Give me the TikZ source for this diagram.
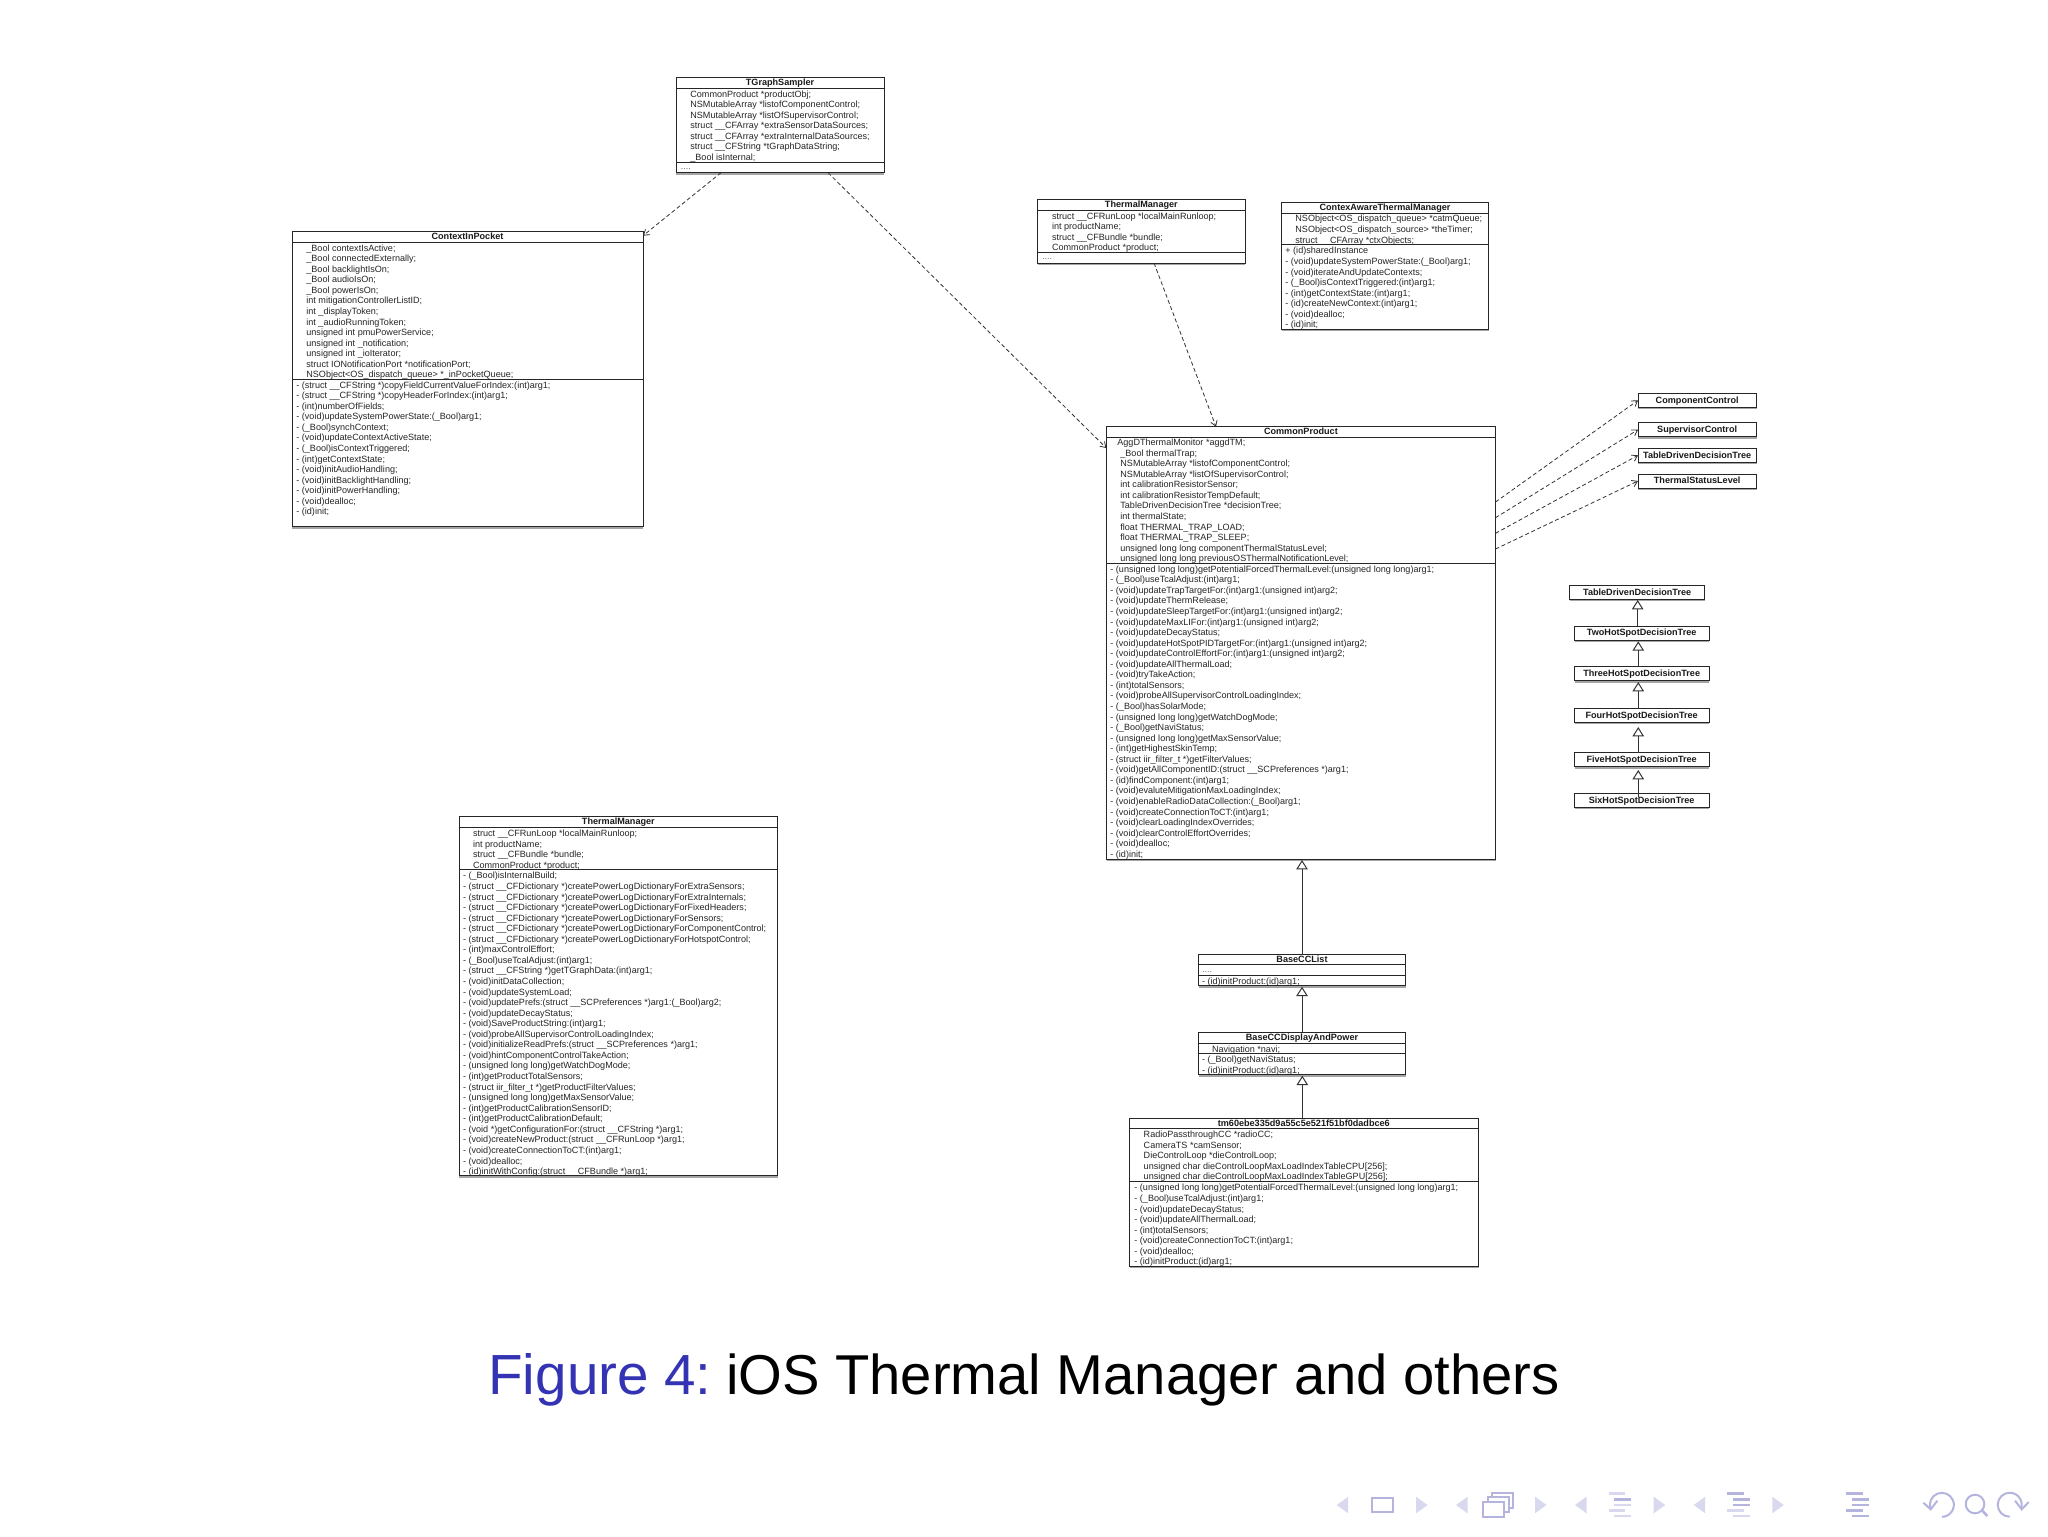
\documentclass[tikz,border=0pt]{standalone}
\usepackage{fontspec}
\setmainfont{Liberation Sans}
\usetikzlibrary{arrows.meta,calc,fit,shadows}
\definecolor{capblue}{HTML}{3333B3}
\definecolor{navlight}{HTML}{D8D8EE}
\definecolor{navdark}{HTML}{B4B4DE}
\tikzset{
    classframe/.style={draw=black!85,line width=.5pt,fill=white,inner sep=0pt,outer sep=0pt,
        drop shadow={shadow xshift=.2pt,shadow yshift=-1pt,opacity=.5,fill=black!70}},
    classrule/.style={draw=black!85,line width=.45pt},
    classtitle/.style={font=\fontsize{4.55}{5.28}\selectfont\bfseries,inner sep=0pt,text=black!90,text height=3.3pt,text depth=.4pt},
    classtext/.style={font=\fontsize{4.53}{5.28}\selectfont,inner sep=0pt,anchor=north west,align=left,text=black!85},
    ctrlbox/.style={classframe,classtitle,minimum width=59.15pt,minimum height=7pt},
    treebox/.style={classframe,classtitle,minimum width=67.35pt,minimum height=7pt},
    dep/.style={draw=black!80,line width=.4pt,dash pattern=on 2pt off 1.3pt,-{Straight Barb[length=2.6pt,width=3.4pt]}},
    inherit/.style={draw=black!80,line width=.5pt,-{Triangle[open,length=4.65pt,width=5.7pt,fill=white]}},
    navline/.style={line width=1.2pt},
    navicon/.style={draw=navdark,line width=1pt}
}
% name, left, top, right, bottom, title rule, member rule, title
\newcommand{\classbox}[8]{
    \coordinate (#1nw) at (#2,#3);
    \coordinate (#1se) at (#4,#5);
    \node[classframe,fit=(#1nw)(#1se)] (#1) {};
    \draw[classrule] (#1.west |- 0,#6) -- (#1.east |- 0,#6);
    \draw[classrule] (#1.west |- 0,#7) -- (#1.east |- 0,#7);
    \node[classtitle] (#1title) at ($(#1.north)!.5!(#1.north |- 0,#6)$) {#8};
}
\newcommand{\memberlines}[4]{\node[classtext] (#1) at (#2,#3-3.9) {\strut #4};}
\begin{document}
\begin{tikzpicture}[x=.5pt,y=-.5pt]
    \useasboundingbox (0,0) rectangle (2048,1536);

    \classbox{sampler}{676}{77.7}{884}{172.7}{88.3}{162}{TGraphSampler}
    \memberlines{samplerattrs}{690}{93.3}{CommonProduct *productObj;\\NSMutableArray *listofComponentControl;\\NSMutableArray *listOfSupervisorControl;\\struct \_\_CFArray *extraSensorDataSources;\\struct \_\_CFArray *extraInternalDataSources;\\struct \_\_CFString *tGraphDataString;\\\_Bool isInternal;}
    \memberlines{samplerops}{680.5}{165.5}{\textcolor{black!60}{....}}

    \classbox{pocket}{292}{231.7}{643}{526.7}{242}{379}{ContextInPocket}
    \memberlines{pocketattrs}{306}{247.3}{\_Bool contextIsActive;\\\_Bool connectedExternally;\\\_Bool backlightIsOn;\\\_Bool audioIsOn;\\\_Bool powerIsOn;\\int mitigationControllerListID;\\int \_displayToken;\\int \_audioRunningToken;\\unsigned int pmuPowerService;\\unsigned int \_notification;\\unsigned int \_ioIterator;\\struct IONotificationPort *notificationPort;\\NSObject<OS\_dispatch\_queue> *\_inPocketQueue;}
    \memberlines{pocketops}{296}{384.3}{- (struct \_\_CFString *)copyFieldCurrentValueForIndex:(int)arg1;\\- (struct \_\_CFString *)copyHeaderForIndex:(int)arg1;\\- (int)numberOfFields;\\- (void)updateSystemPowerState:(\_Bool)arg1;\\- (\_Bool)synchContext;\\- (void)updateContextActiveState;\\- (\_Bool)isContextTriggered;\\- (int)getContextState;\\- (void)initAudioHandling;\\- (void)initBacklightHandling;\\- (void)initPowerHandling;\\- (void)dealloc;\\- (id)init;}

    \classbox{manager}{1037.7}{199.7}{1245}{263}{210.3}{252.3}{ThermalManager}
    \memberlines{managerattrs}{1051.7}{215.3}{struct \_\_CFRunLoop *localMainRunloop;\\int productName;\\struct \_\_CFBundle *bundle;\\CommonProduct *product;}
    \memberlines{managerops}{1041.7}{255.5}{\textcolor{black!60}{....}}

    \classbox{aware}{1281.3}{202.7}{1488.7}{329.3}{213.3}{244.7}{ContexAwareThermalManager}
    \memberlines{awareattrs}{1295}{218}{NSObject<OS\_dispatch\_queue> *catmQueue;\\NSObject<OS\_dispatch\_source> *theTimer;\\struct \_\_CFArray *ctxObjects;}
    \memberlines{awareops}{1285}{250}{+ (id)sharedInstance\\- (void)updateSystemPowerState:(\_Bool)arg1;\\- (void)iterateAndUpdateContexts;\\- (\_Bool)isContextTriggered:(int)arg1;\\- (int)getContextState:(int)arg1;\\- (id)createNewContext:(int)arg1;\\- (void)dealloc;\\- (id)init;}

    \classbox{product}{1106.3}{426.7}{1495.5}{859.3}{437.3}{563.5}{CommonProduct}
    \memberlines{productfirst}{1117}{441.7}{AggDThermalMonitor *aggdTM;}
    \memberlines{productattrs}{1120}{452.25}{\_Bool thermalTrap;\\NSMutableArray *listofComponentControl;\\NSMutableArray *listOfSupervisorControl;\\int calibrationResistorSensor;\\int calibrationResistorTempDefault;\\TableDrivenDecisionTree *decisionTree;\\int thermalState;\\float THERMAL\_TRAP\_LOAD;\\float THERMAL\_TRAP\_SLEEP;\\unsigned long long componentThermalStatusLevel;\\unsigned long long previousOSThermalNotificationLevel;}
    \memberlines{productops}{1110}{568.3}{- (unsigned long long)getPotentialForcedThermalLevel:(unsigned long long)arg1;\\- (\_Bool)useTcalAdjust:(int)arg1;\\- (void)updateTrapTargetFor:(int)arg1:(unsigned int)arg2;\\- (void)updateThermRelease;\\- (void)updateSleepTargetFor:(int)arg1:(unsigned int)arg2;\\- (void)updateMaxLIFor:(int)arg1:(unsigned int)arg2;\\- (void)updateDecayStatus;\\- (void)updateHotSpotPIDTargetFor:(int)arg1:(unsigned int)arg2;\\- (void)updateControlEffortFor:(int)arg1:(unsigned int)arg2;\\- (void)updateAllThermalLoad;\\- (void)tryTakeAction;\\- (int)totalSensors;\\- (void)probeAllSupervisorControlLoadingIndex;\\- (\_Bool)hasSolarMode;\\- (unsigned long long)getWatchDogMode;\\- (\_Bool)getNaviStatus;\\- (unsigned long long)getMaxSensorValue;\\- (int)getHighestSkinTemp;\\- (struct iir\_filter\_t *)getFilterValues;\\- (void)getAllComponentID:(struct \_\_SCPreferences *)arg1;\\- (id)findComponent:(int)arg1;\\- (void)evaluteMitigationMaxLoadingIndex;\\- (void)enableRadioDataCollection:(\_Bool)arg1;\\- (void)createConnectionToCT:(int)arg1;\\- (void)clearLoadingIndexOverrides;\\- (void)clearControlEffortOverrides;\\- (void)dealloc;\\- (id)init;}

    \classbox{mainmanager}{459}{816.3}{777.7}{1175.7}{827}{869.3}{ThermalManager}
    \memberlines{mainmanagerattrs}{472.7}{832.7}{struct \_\_CFRunLoop *localMainRunloop;\\int productName;\\struct \_\_CFBundle *bundle;\\CommonProduct *product;}
    \memberlines{mainmanagerops}{462.7}{875}{- (\_Bool)isInternalBuild;\\- (struct \_\_CFDictionary *)createPowerLogDictionaryForExtraSensors;\\- (struct \_\_CFDictionary *)createPowerLogDictionaryForExtraInternals;\\- (struct \_\_CFDictionary *)createPowerLogDictionaryForFixedHeaders;\\- (struct \_\_CFDictionary *)createPowerLogDictionaryForSensors;\\- (struct \_\_CFDictionary *)createPowerLogDictionaryForComponentControl;\\- (struct \_\_CFDictionary *)createPowerLogDictionaryForHotspotControl;\\- (int)maxControlEffort;\\- (\_Bool)useTcalAdjust:(int)arg1;\\- (struct \_\_CFString *)getTGraphData:(int)arg1;\\- (void)initDataCollection;\\- (void)updateSystemLoad;\\- (void)updatePrefs:(struct \_\_SCPreferences *)arg1:(\_Bool)arg2;\\- (void)updateDecayStatus;\\- (void)SaveProductString:(int)arg1;\\- (void)probeAllSupervisorControlLoadingIndex;\\- (void)initializeReadPrefs:(struct \_\_SCPreferences *)arg1;\\- (void)hintComponentControlTakeAction;\\- (unsigned long long)getWatchDogMode;\\- (int)getProductTotalSensors;\\- (struct iir\_filter\_t *)getProductFilterValues;\\- (unsigned long long)getMaxSensorValue;\\- (int)getProductCalibrationSensorID;\\- (int)getProductCalibrationDefault;\\- (void *)getConfigurationFor:(struct \_\_CFString *)arg1;\\- (void)createNewProduct:(struct \_\_CFRunLoop *)arg1;\\- (void)createConnectionToCT:(int)arg1;\\- (void)dealloc;\\- (id)initWithConfig:(struct \_\_CFBundle *)arg1;}

    \classbox{baselist}{1198.3}{954}{1405.7}{985.7}{964.7}{975.3}{BaseCCList}
    \memberlines{baselistattrs}{1201.7}{968.2}{\textcolor{black!60}{....}}
    \memberlines{baselistops}{1201.7}{980.3}{- (id)initProduct:(id)arg1;}

    \classbox{display}{1198.3}{1032.3}{1405.7}{1074.7}{1043}{1053.7}{BaseCCDisplayAndPower}
    \memberlines{displayattrs}{1211.7}{1048.3}{Navigation *navi;}
    \memberlines{displayops}{1201.7}{1058.7}{- (\_Bool)getNaviStatus;\\- (id)initProduct:(id)arg1;}

    \classbox{tmhash}{1129.3}{1118}{1478.3}{1266.3}{1128.7}{1181.7}{tm60ebe335d9a55c5e521f51bf0dadbce6}
    \memberlines{tmhashattrs}{1143.3}{1133.7}{RadioPassthroughCC *radioCC;\\CameraTS *camSensor;\\DieControlLoop *dieControlLoop;\\unsigned char dieControlLoopMaxLoadIndexTableCPU[256];\\unsigned char dieControlLoopMaxLoadIndexTableGPU[256];}
    \memberlines{tmhashops}{1134}{1187}{- (unsigned long long)getPotentialForcedThermalLevel:(unsigned long long)arg1;\\- (\_Bool)useTcalAdjust:(int)arg1;\\- (void)updateDecayStatus;\\- (void)updateAllThermalLoad;\\- (int)totalSensors;\\- (void)createConnectionToCT:(int)arg1;\\- (void)dealloc;\\- (id)initProduct:(id)arg1;}

    \node[ctrlbox] (compctl) at (1697.15,400.3) {ComponentControl};
    \node[ctrlbox] (supctl) at (1697.15,429.7) {SupervisorControl};
    \node[ctrlbox] (tdlevel) at (1697.15,455.3) {TableDrivenDecisionTree};
    \node[ctrlbox] (thermlvl) at (1697.15,481) {ThermalStatusLevel};

    \node[treebox] (tdroot) at (1637.15,592.3) {TableDrivenDecisionTree};
    \node[treebox] (twohot) at (1641.65,633) {TwoHotSpotDecisionTree};
    \node[treebox] (threehot) at (1641.65,673.7) {ThreeHotSpotDecisionTree};
    \node[treebox] (fourhot) at (1641.65,715.3) {FourHotSpotDecisionTree};
    \node[treebox] (fivehot) at (1641.65,759.7) {FiveHotSpotDecisionTree};
    \node[treebox] (sixhot) at (1641.65,800.3) {SixHotSpotDecisionTree};

    \draw[dep] ([xshift=22.5pt]sampler.south west) -- ([yshift=-2pt]pocket.north east);
    \draw[dep] ([xshift=-28pt]sampler.south east) -- ([yshift=-10.65pt]product.north west);
    \draw[dep] ([xshift=58.15pt]manager.south west) -- ([xshift=54.85pt]product.north west);
    \foreach \ctrl/\off in {compctl/37.65,supctl/45.5,tdlevel/53.3,thermlvl/61.15}
        \draw[dep] ([yshift=-\off pt]product.north east) -- (\ctrl.west);

    \draw[inherit,shorten >=.35pt] (baselist.north) -- (baselist.north |- product.south);
    \draw[inherit,shorten >=.5pt] (display.north) -- (display.north |- baselist.south);
    \draw[inherit,shorten >=.5pt] ([xshift=-.75pt]tmhash.north) -- ([xshift=-.75pt]tmhash.north |- display.south);

    \draw[inherit,shorten >=.35pt] ([xshift=-2pt]twohot.north) -- ([xshift=.25pt]tdroot.south);
    \foreach \low/\high/\gap in {threehot/twohot/.65,fourhot/threehot/.65,fivehot/fourhot/2.35}
        \draw[inherit,shorten >=\gap pt] ([xshift=-1.7pt]\low.north) -- ([xshift=-1.7pt]\high.south);
    \draw[inherit,shorten >=1.65pt] ([xshift=-1.7pt,yshift=-2pt]sixhot.north) -- ([xshift=-1.7pt]fivehot.south);

    \node[font=\fontsize{28.09}{34}\selectfont,anchor=base west,inner sep=0pt] (caption) at (488,1394) {\textcolor{capblue}{\fontsize{28.3}{34}\selectfont Figure 4:}\hspace*{-.67pt} iOS Thermal Manager and others};

    % navigation symbols
    \foreach \x in {1336.7,1456,1575,1693.7}
        \fill[navlight] (\x,1505) -- ++(11.5,-8.3) -- ++(0,16.6) -- cycle;
    \foreach \x in {1416,1535,1653.7,1772.3}
        \fill[navlight] (\x,1496.7) -- ++(11.5,8.3) -- ++(-11.5,8.3) -- cycle;
    \draw[navicon] (1371.7,1497.7) rectangle (1392.7,1512.3);
    \draw[navicon,fill=white] (1492.3,1492.7) rectangle (1513.3,1507.7);
    \draw[navicon,fill=white] (1487.8,1497.2) rectangle (1508.8,1512.2);
    \draw[navicon,fill=white] (1483.3,1501.7) rectangle (1504.3,1516.7);
    \foreach \x/\c/\yy/\w in {0/navlight/1493.3/16.6,5.6/navdark/1499.3/17,5.6/navlight/1504.7/17,0/navlight/1510.3/16.6,5.6/navlight/1516/17}
        \draw[navline,\c] (1608.7+\x,\yy) -- ++(\w,0);
    \foreach \x/\c/\yy/\w in {0/navdark/1493.3/17,5.7/navdark/1499.3/17.3,5.7/navdark/1504.7/17.3,0/navlight/1510.3/17,5.7/navlight/1516/17.3}
        \draw[navline,\c] (1727+\x,\yy) -- ++(\w,0);
    \foreach \x/\yy/\w in {0/1493.3/17,5.7/1499.3/17,5.7/1504.7/17,0/1510.3/17,5.7/1516/17}
        \draw[navline,navdark] (1846+\x,\yy) -- ++(\w,0);
    \draw[navicon] (1930.7,1509.3) arc[start angle=202,end angle=-90,radius=6pt];
    \draw[navicon] (1923.3,1502.7) -- (1930.7,1509.3) -- (1937.3,1500.7);
    \draw[navicon] (1975,1504) circle[radius=4.65pt];
    \draw[navicon,line width=1.3pt] (1981.7,1510) -- (1987.3,1516);
    \draw[navicon] (2009.7,1516.7) arc[start angle=270,end angle=-21,radius=6pt];
    \draw[navicon] (2015,1500.7) -- (2021.7,1509.3) -- (2028.7,1502);
\end{tikzpicture}
\end{document}
